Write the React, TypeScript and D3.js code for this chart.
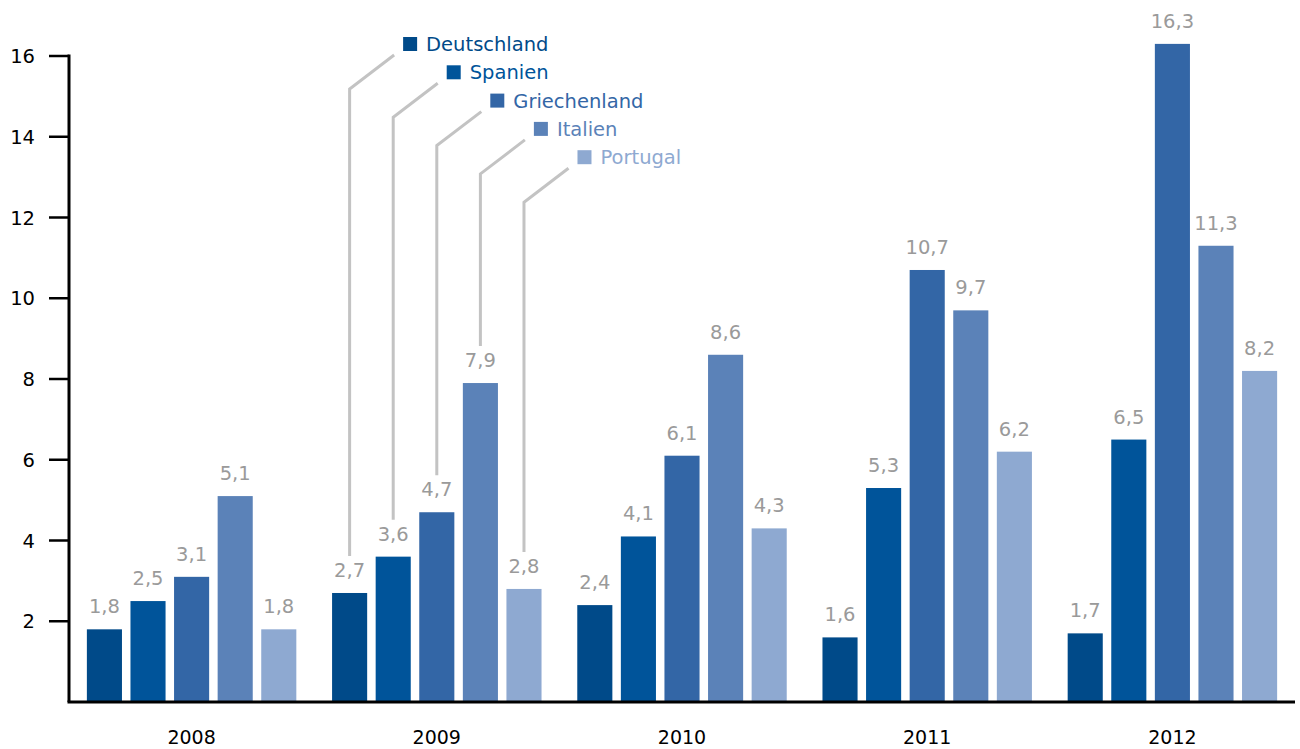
import React from "react";
import * as d3 from "d3";

const years = ["2008", "2009", "2010", "2011", "2012"];
const seriesNames = ["Deutschland", "Spanien", "Griechenland", "Italien", "Portugal"];
const deutschland = [1.8, 2.7, 2.4, 1.6, 1.7];
const spanien = [2.5, 3.6, 4.1, 5.3, 6.5];
const griechenland = [3.1, 4.7, 6.1, 10.7, 16.3];
const italien = [5.1, 7.9, 8.6, 9.7, 11.3];
const portugal = [1.8, 2.8, 4.3, 6.2, 8.2];
const seriesValues = [deutschland, spanien, griechenland, italien, portugal];
const colors = ["#004a89", "#00549a", "#3366a6", "#5b82b8", "#8ea9d1"];
const yTicks = [2, 4, 6, 8, 10, 12, 14, 16];

const W = 1300;
const H = 749;
const FONT = "'DejaVu Sans', Verdana, sans-serif";

export default function App() {
  const left = 69;
  const right = 1295;
  const base = 702;
  const x0 = d3.scaleBand<string>().domain(years).range([left, right]);
  const x1 = d3
    .scaleBand<string>()
    .domain(seriesNames)
    .range([0, x0.bandwidth()])
    .paddingInner(0.195)
    .paddingOuter(0.41);
  const y = d3.scaleLinear().domain([0, 16]).range([base, 56]);
  const fmt = (v: number) => v.toFixed(1).replace(".", ",");

  const legendYear = "2009";
  const legendIdx = years.indexOf(legendYear);

  return (
    <svg
      width={W}
      height={H}
      style={{ position: "absolute", left: 0, top: 0, background: "#fff" }}
      fontFamily={FONT}
    >
      {/* bars */}
      {years.map((yr, yi) => (
        <g key={yr} transform={`translate(${x0(yr)},0)`}>
          {seriesNames.map((s, si) => {
            const v = seriesValues[si][yi];
            const bx = x1(s)!;
            return (
              <g key={s}>
                <rect
                  x={bx}
                  y={y(v)}
                  width={x1.bandwidth()}
                  height={base - y(v)}
                  fill={colors[si]}
                />
                <text
                  x={bx + x1.bandwidth() / 2}
                  y={y(v) - 16}
                  textAnchor="middle"
                  fontSize={19.5}
                  fill="#9a9a9a"
                >
                  {fmt(v)}
                </text>
              </g>
            );
          })}
        </g>
      ))}

      {/* leader lines & legend */}
      {seriesNames.map((s, si) => {
        const v = seriesValues[si][legendIdx];
        const cx = x0(legendYear)! + x1(s)! + x1.bandwidth() / 2;
        const sqX = cx + 53.5;
        const sqY = 37 + si * 28.3;
        const sx = sqX - 9;
        const sy = sqY + 18;
        const ky = sy + 34;
        const endY = y(v) - 16 - 21;
        return (
          <g key={s}>
            <polyline
              points={`${sx},${sy} ${cx},${ky} ${cx},${endY}`}
              fill="none"
              stroke="#c3c3c3"
              strokeWidth={3}
            />
            <rect x={sqX} y={sqY} width={14} height={14} fill={colors[si]} />
            <text x={sqX + 23} y={sqY + 14} fontSize={19.5} fill={colors[si]}>
              {s}
            </text>
          </g>
        );
      })}

      {/* y axis */}
      <line x1={left} x2={left} y1={y(16) - 1.5} y2={base} stroke="#000" strokeWidth={3} />
      {yTicks.map((t) => (
        <g key={t}>
          <line x1={49} x2={left} y1={y(t)} y2={y(t)} stroke="#000" strokeWidth={2.5} />
          <text x={35} y={y(t) + 7} textAnchor="end" fontSize={19.5} fill="#000">
            {t}
          </text>
        </g>
      ))}

      {/* x axis */}
      <line x1={left - 1.5} x2={right} y1={base} y2={base} stroke="#000" strokeWidth={3} />
      {years.map((yr) => (
        <text
          key={yr}
          x={x0(yr)! + x0.bandwidth() / 2}
          y={744}
          textAnchor="middle"
          fontSize={19}
          fill="#000"
        >
          {yr}
        </text>
      ))}
    </svg>
  );
}
